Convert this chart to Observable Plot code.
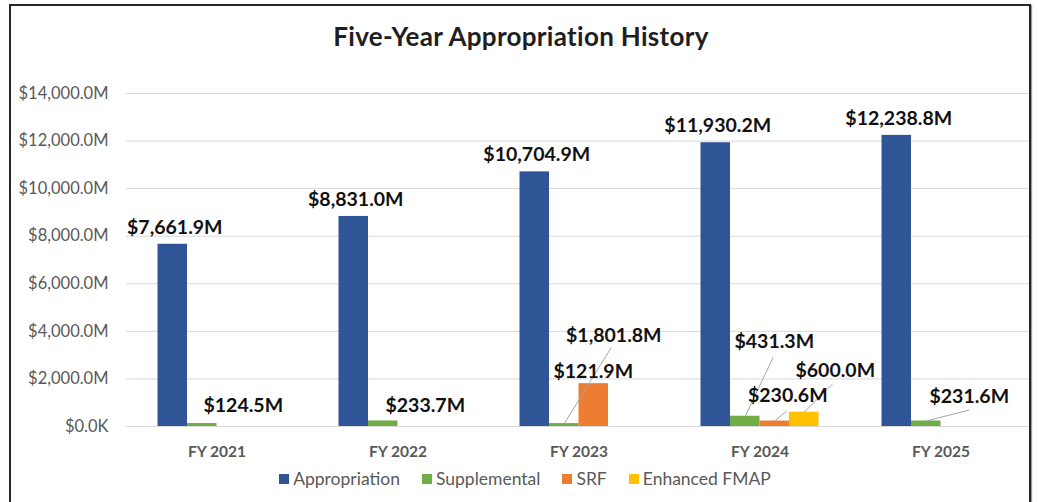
<!DOCTYPE html>
<html>
<head>
<meta charset="utf-8">
<script src="https://cdn.jsdelivr.net/npm/d3@7"></script>
<script src="https://cdn.jsdelivr.net/npm/@observablehq/plot@0.6"></script>
<style>
  html, body { margin: 0; padding: 0; background: #fff; }
  #wrap { position: relative; width: 1038px; height: 502px; overflow: hidden; font-family: Lato, "Open Sans", sans-serif; }
  #frame { position: absolute; left: 9px; top: 4px; width: 1018px; height: 540px; border: 2px solid #262626; box-shadow: 1px 1px 1px #9a9a9a; pointer-events: none; z-index: 5; }
  #title { height: 70px; box-sizing: border-box; padding-top: 23px; line-height: 26px; font-size: 26px; font-weight: 700; letter-spacing: 0.3px; text-align: center; color: #1f1f1f; padding-left: 4px; }
  #chart svg { display: block; }
  #legend { display: flex; justify-content: center; align-items: center; gap: 22px; padding-left: 12px; padding-top: 7px; line-height: 20px; font-size: 17.5px; color: #595959; }
  #legend .item { display: flex; align-items: center; }
  #legend .sw { width: 10px; height: 10px; margin-right: 4px; }
</style>
</head>
<body>
<div id="wrap">
  <div id="frame"></div>
  <div id="title">Five-Year Appropriation History</div>
  <div id="chart"></div>
  <div id="legend"></div>
</div>
<script>
// ---- data ----
const years = ["FY 2021", "FY 2022", "FY 2023", "FY 2024", "FY 2025"];
const series = ["Appropriation", "Supplemental", "SRF", "Enhanced FMAP"];
const appropriation = [7661.9, 8831.0, 10704.9, 11930.2, 12238.8];
const supplemental = [124.5, 233.7, 121.9, 431.3, 231.6];
const srf = [null, null, 1801.8, 230.6, null];
const enhancedFmap = [null, null, null, 600.0, null];
const yTicks = [0, 2000, 4000, 6000, 8000, 10000, 12000, 14000];
const yTickLabels = ["$0.0K", "$2,000.0M", "$4,000.0M", "$6,000.0M", "$8,000.0M", "$10,000.0M", "$12,000.0M", "$14,000.0M"];
const colors = ["#2F5597", "#70AD47", "#ED7D31", "#FFC000"];

// ---- layout / style ----
const W = 1038, H = 392, MT = 23, MB = 36, ML = 126, MR = 7;
const pxX = (W - ML - MR) / years.length;       // px per category
const pxY = (H - MT - MB) / 14000;              // px per $M
const BW = 29.5 / pxX;                          // bar width in category units

// label nudges in pixels (text centre relative to bar top centre)
const labelNudge = {
  "Appropriation": [2, -17],
  "Supplemental|FY 2021": [41, -18],
  "Supplemental|FY 2022": [42, -15],
  "Supplemental|FY 2023": [29, -52],
  "SRF|FY 2023": [20, -48],
  "Supplemental|FY 2024": [29, -74],
  "SRF|FY 2024": [13, -25],
  "Enhanced FMAP|FY 2024": [31, -41],
  "Supplemental|FY 2025": [43, -24]
};
// leader line ends in pixels relative to bar top centre
const leaderEnd = {
  "Supplemental|FY 2023": [47, -76],
  "Supplemental|FY 2024": [28, -59],
  "SRF|FY 2024": [12, -10],
  "Enhanced FMAP|FY 2024": [28, -28],
  "Supplemental|FY 2025": [43, -11]
};

const valuesBySeries = [appropriation, supplemental, srf, enhancedFmap];
const rows = [];
valuesBySeries.forEach((vals, j) => vals.forEach((v, i) => {
  if (v != null) rows.push({yi: i, sj: j, year: years[i], series: series[j], value: v});
}));
const center = d => d.yi + (d.sj - 1.5) * BW;
const fmt = v => "$" + d3.format(",.1f")(v) + "M";
const key = d => d.series + "|" + d.year;

const labelMarks = rows.map(d => {
  const n = labelNudge[key(d)] || labelNudge[d.series];
  return Plot.text([d], {x: center, y: "value", text: d => fmt(d.value), dx: n[0], dy: n[1],
    fontSize: 19.5, fontWeight: 700, fill: "#111", textAnchor: "middle"});
});
const leaderRows = rows.filter(d => leaderEnd[key(d)]);

const plot = Plot.plot({
  width: W, height: H,
  marginTop: MT, marginBottom: MB, marginLeft: ML, marginRight: MR,
  style: {fontFamily: "Lato, 'Open Sans', sans-serif", background: "transparent"},
  x: {type: "linear", domain: [-0.5, years.length - 0.5]},
  y: {domain: [0, 14000]},
  color: {domain: series, range: colors},
  marks: [
    Plot.gridY({ticks: yTicks, stroke: "#d9d9d9", strokeOpacity: 1, strokeWidth: 1}),
    Plot.axisY({ticks: yTicks, tickFormat: d => yTickLabels[yTicks.indexOf(d)], tickSize: 0, tickPadding: 18,
      fontSize: 16.5, fill: "#595959", label: null}),
    Plot.axisX({ticks: years.map((_, i) => i), tickFormat: i => years[i], tickSize: 0, tickPadding: 19,
      fontSize: 15.5, fontWeight: 700, fill: "#595959", label: null}),
    Plot.rect(rows, {x1: d => center(d) - BW / 2, x2: d => center(d) + BW / 2, y1: 0, y2: "value", fill: "series"}),
    Plot.link(leaderRows, {
      x1: center, y1: "value",
      x2: d => center(d) + leaderEnd[key(d)][0] / pxX,
      y2: d => d.value - leaderEnd[key(d)][1] / pxY,
      stroke: "#a6a6a6", strokeWidth: 1
    }),
    ...labelMarks
  ]
});
document.getElementById("chart").appendChild(plot);

// legend
const leg = document.getElementById("legend");
series.forEach((s, j) => {
  const it = document.createElement("div");
  it.className = "item";
  it.innerHTML = `<span class="sw" style="background:${colors[j]}"></span><span>${s}</span>`;
  leg.appendChild(it);
});
</script>
</body>
</html>
